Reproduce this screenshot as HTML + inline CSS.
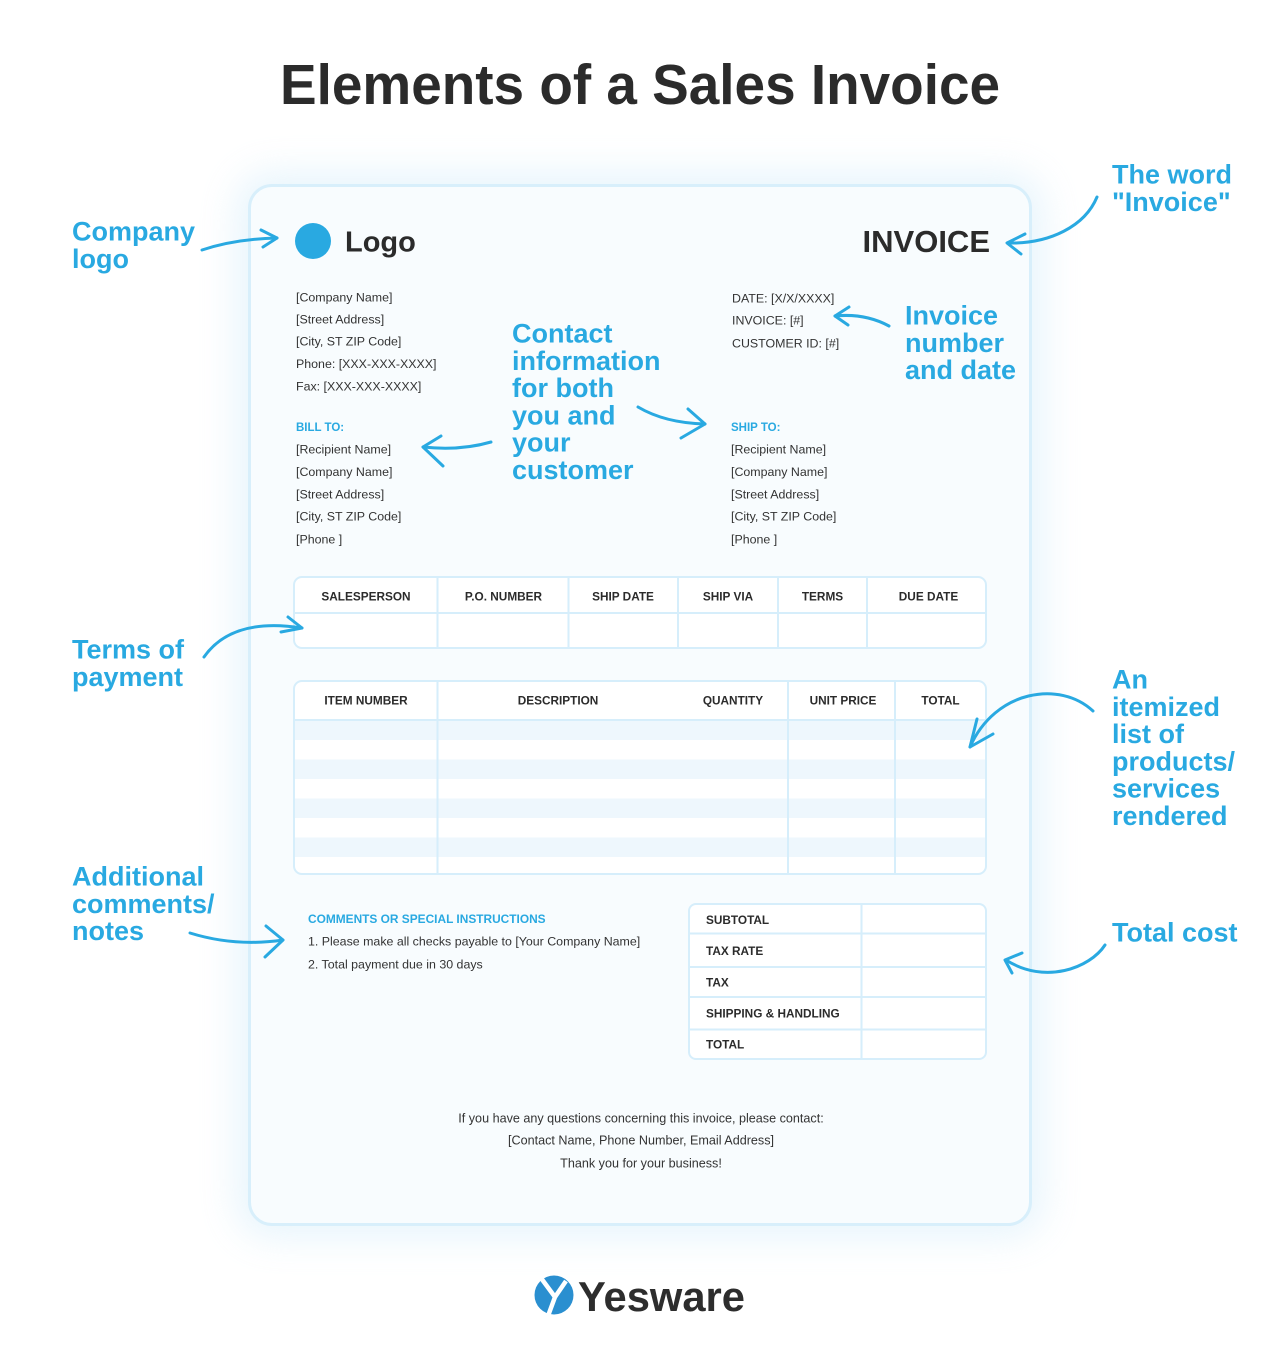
<!DOCTYPE html>
<html><head><meta charset="utf-8"><style>
html,body{margin:0;padding:0;background:#fff;}
body{width:1280px;height:1369px;position:relative;overflow:hidden;}
#card{position:absolute;left:248px;top:184px;width:778px;height:1036px;border:3px solid #d8effb;border-radius:24px;background:#f8fcfe;box-shadow:0 0 36px 12px rgba(205,232,248,0.45);}
svg{position:absolute;left:0;top:0;}
</style></head><body>
<div id="card"></div>
<svg width="1280" height="1369" viewBox="0 0 1280 1369" xmlns="http://www.w3.org/2000/svg" font-family="'Liberation Sans', Arial, sans-serif">
<!-- Title -->
<text x="640" y="104" text-anchor="middle" font-size="57" font-weight="bold" fill="#2b2b2b" textLength="720" lengthAdjust="spacingAndGlyphs">Elements of a Sales Invoice</text>

<!-- Logo -->
<circle cx="313" cy="241" r="18" fill="#29a9e1"/>
<text x="345" y="251.5" font-size="29" font-weight="bold" fill="#2b2b2b">Logo</text>
<text x="990" y="252" text-anchor="end" font-size="31" font-weight="bold" fill="#2b2b2b">INVOICE</text>

<!-- Company info -->
<g font-size="12.4" fill="#333">
<text x="296" y="301.5">[Company Name]</text>
<text x="296" y="323.5">[Street Address]</text>
<text x="296" y="345.5">[City, ST ZIP Code]</text>
<text x="296" y="368">Phone: [XXX-XXX-XXXX]</text>
<text x="296" y="390.5">Fax: [XXX-XXX-XXXX]</text>
<text x="732" y="302.5">DATE: [X/X/XXXX]</text>
<text x="732" y="324.5">INVOICE: [#]</text>
<text x="732" y="347.5">CUSTOMER ID: [#]</text>
<text x="296" y="453.5">[Recipient Name]</text>
<text x="296" y="476">[Company Name]</text>
<text x="296" y="498.5">[Street Address]</text>
<text x="296" y="520.5">[City, ST ZIP Code]</text>
<text x="296" y="543.5">[Phone ]</text>
<text x="731" y="453.5">[Recipient Name]</text>
<text x="731" y="476">[Company Name]</text>
<text x="731" y="498.5">[Street Address]</text>
<text x="731" y="520.5">[City, ST ZIP Code]</text>
<text x="731" y="543.5">[Phone ]</text>
</g>
<g font-size="11.5" font-weight="bold" fill="#29a9e1">
<text x="296" y="431">BILL TO:</text>
<text x="731" y="431">SHIP TO:</text>
</g>

<!-- Table 1 -->
<rect x="294" y="577" width="692" height="71" rx="8" fill="#fff" stroke="#d6eefb" stroke-width="2"/>
<g stroke="#d6eefb" stroke-width="2">
<line x1="294" y1="613" x2="986" y2="613"/>
<line x1="437.5" y1="577" x2="437.5" y2="648"/>
<line x1="568.5" y1="577" x2="568.5" y2="648"/>
<line x1="678" y1="577" x2="678" y2="648"/>
<line x1="778" y1="577" x2="778" y2="648"/>
<line x1="867" y1="577" x2="867" y2="648"/>
</g>
<g font-size="11.8" font-weight="bold" fill="#2b2b2b" text-anchor="middle">
<text x="366" y="600.5">SALESPERSON</text>
<text x="503.5" y="600.5">P.O. NUMBER</text>
<text x="623" y="600.5">SHIP DATE</text>
<text x="728" y="600.5">SHIP VIA</text>
<text x="822.5" y="600.5">TERMS</text>
<text x="928.5" y="600.5">DUE DATE</text>
</g>

<!-- Table 2 -->
<rect x="294" y="681" width="692" height="193" rx="8" fill="#fff" stroke="#d6eefb" stroke-width="2"/>
<g fill="#eef7fd">
<rect x="295" y="721" width="690" height="19"/>
<rect x="295" y="759.5" width="690" height="19.5"/>
<rect x="295" y="798.5" width="690" height="19.5"/>
<rect x="295" y="837.5" width="690" height="19.5"/>
</g>
<g stroke="#d6eefb" stroke-width="2">
<line x1="294" y1="720" x2="986" y2="720"/>
<line x1="437.5" y1="681" x2="437.5" y2="874"/>
<line x1="788" y1="681" x2="788" y2="874"/>
<line x1="895" y1="681" x2="895" y2="874"/>
</g>
<g font-size="11.8" font-weight="bold" fill="#2b2b2b" text-anchor="middle">
<text x="366" y="704.5">ITEM NUMBER</text>
<text x="558" y="704.5">DESCRIPTION</text>
<text x="733" y="704.5">QUANTITY</text>
<text x="843" y="704.5">UNIT PRICE</text>
<text x="940.5" y="704.5">TOTAL</text>
</g>

<!-- Comments -->
<text x="308" y="923.2" font-size="11.9" font-weight="bold" fill="#29a9e1">COMMENTS OR SPECIAL INSTRUCTIONS</text>
<g font-size="12.4" fill="#333">
<text x="308" y="945.5">1. Please make all checks payable to [Your Company Name]</text>
<text x="308" y="968.5">2. Total payment due in 30 days</text>
</g>

<!-- Totals table -->
<rect x="689" y="904" width="297" height="155" rx="7" fill="#fff" stroke="#d6eefb" stroke-width="2"/>
<g stroke="#d6eefb" stroke-width="2">
<line x1="861.5" y1="904" x2="861.5" y2="1059"/>
<line x1="689" y1="933.5" x2="986" y2="933.5"/>
<line x1="689" y1="967" x2="986" y2="967"/>
<line x1="689" y1="997" x2="986" y2="997"/>
<line x1="689" y1="1029.5" x2="986" y2="1029.5"/>
</g>
<g font-size="11.8" font-weight="bold" fill="#2b2b2b">
<text x="706" y="924.2">SUBTOTAL</text>
<text x="706" y="955.2">TAX RATE</text>
<text x="706" y="986.5">TAX</text>
<text x="706" y="1017.5">SHIPPING &amp; HANDLING</text>
<text x="706" y="1048.5">TOTAL</text>
</g>

<!-- Footer text -->
<g font-size="12.6" fill="#333" text-anchor="middle">
<text x="641" y="1122.5">If you have any questions concerning this invoice, please contact:</text>
<text x="641" y="1144.5">[Contact Name, Phone Number, Email Address]</text>
<text x="641" y="1167.5">Thank you for your business!</text>
</g>

<!-- Annotations -->
<g font-size="27" font-weight="bold" fill="#29a9e1">
<text x="72" y="240.5">Company</text>
<text x="72" y="267.8">logo</text>

<text x="512" y="342.5">Contact</text>
<text x="512" y="369.8">information</text>
<text x="512" y="397.1">for both</text>
<text x="512" y="424.4">you and</text>
<text x="512" y="451.7">your</text>
<text x="512" y="479">customer</text>

<text x="905" y="324.5">Invoice</text>
<text x="905" y="351.8">number</text>
<text x="905" y="379.1">and date</text>

<text x="1112" y="183.5">The word</text>
<text x="1112" y="210.8">"Invoice"</text>

<text x="72" y="658.5">Terms of</text>
<text x="72" y="685.8">payment</text>

<text x="1112" y="688.5">An</text>
<text x="1112" y="715.8">itemized</text>
<text x="1112" y="743.1">list of</text>
<text x="1112" y="770.4">products/</text>
<text x="1112" y="797.7">services</text>
<text x="1112" y="825">rendered</text>

<text x="72" y="885.5">Additional</text>
<text x="72" y="912.8">comments/</text>
<text x="72" y="940.1">notes</text>

<text x="1112" y="941.5">Total cost</text>
</g>

<!-- Arrows -->
<g fill="none" stroke="#29a9e1" stroke-width="3" stroke-linecap="round" stroke-linejoin="round">
<path d="M202,250 Q235,239 277,238"/>
<path d="M261,230 L277,238 L263,247"/>

<path d="M1097,197 C1085,226 1050,244 1008,243"/>
<path d="M1025,234 L1007,243 L1021,254"/>

<path d="M889,326 Q865,313 835,316"/>
<path d="M849,307 L835,316 L848,325"/>

<path d="M491,442 Q460,451 423,447"/>
<path d="M441,436 L423,447 L443,466"/>

<path d="M638,407 Q665,423 705,424"/>
<path d="M688,409 L705,424 L681,438"/>

<path d="M204,657 Q232,617 302,628"/>
<path d="M288,617 L302,628 L281,632"/>

<path d="M1093,711 C1060,680 995,690 970,747"/>
<path d="M977,719 L970,747 L993,734"/>

<path d="M190,933 Q235,947 283,940"/>
<path d="M266,926 L283,940 L265,957"/>

<path d="M1105,945 C1090,968 1045,985 1006,960"/>
<path d="M1022,953 L1005,960 L1012,973"/>
</g>

<!-- Yesware logo -->
<circle cx="554" cy="1295" r="19.5" fill="#2a8fd0"/>
<g fill="none" stroke="#fff" stroke-width="4.5" stroke-linecap="butt">
<path d="M541,1278 L555,1297 L548,1316"/>
<path d="M566,1281 L555,1297"/>
</g>
<text x="578" y="1311" font-size="42" font-weight="bold" fill="#2d2d2d" textLength="167" lengthAdjust="spacingAndGlyphs">Yesware</text>
</svg>
</body></html>
